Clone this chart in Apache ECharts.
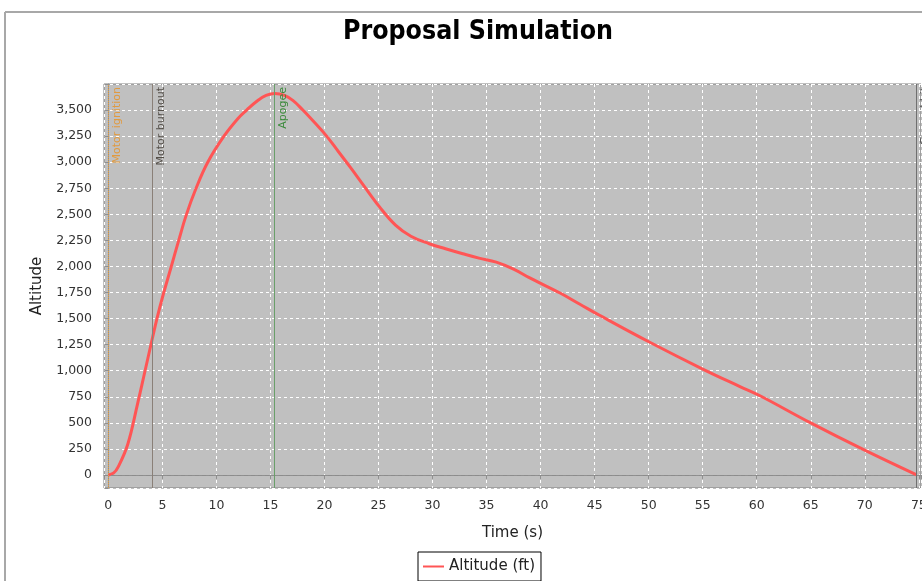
<!DOCTYPE html>
<html>
<head>
<meta charset="utf-8">
<script src="https://cdn.jsdelivr.net/npm/echarts@6/dist/echarts.min.js"></script>
<style>html,body{margin:0;padding:0;background:#fff}#c{width:922px;height:581px}</style>
</head>
<body>
<div id="c"></div>
<script>
const timeS = [0, 0.5, 0.9, 1.8, 2.7, 3.4, 4.1, 4.5, 5.0, 5.8, 6.5, 7.2, 8.1, 9.2, 10.7, 12.0, 12.8, 13.8, 14.6, 15.4, 16.3, 17.1, 18.0, 19.0, 20.2, 21.3, 22.4, 23.5, 25.1, 26.6, 28.0, 29.7, 31.2, 32.8, 34.3, 35.9, 37.5, 39.0, 41.8, 43.6, 45.5, 50.1, 55.0, 58.4, 60.3, 64.9, 69.8, 74.8];
const altitudeFt = [0, 20, 75, 295, 680, 1000, 1321, 1500, 1700, 1990, 2245, 2490, 2745, 3000, 3250, 3420, 3500, 3590, 3640, 3658, 3640, 3590, 3500, 3390, 3250, 3100, 2950, 2795, 2571, 2394, 2290, 2218, 2170, 2122, 2080, 2042, 1975, 1890, 1745, 1640, 1529, 1273, 1016, 850, 760, 504, 247, 0];
const eventNames = ['Motor ignition', 'Motor burnout', 'Apogee', 'Ground hit'];
const eventTimes = [0, 4.1, 15.4, 74.8];
const eventLineColors = ['#e8a040', '#8a8078', '#6a9f6a', '#707070'];
const eventLabelColors = ['#e09a40', '#55504a', '#3a8a3a', '#505050'];
const eventLineTypes = ['dotted', 'solid', 'solid', 'solid'];

const FONT = 'DejaVu Sans';
const chart = echarts.init(document.getElementById('c'), null, {renderer: 'canvas'});

const eventMarks = eventTimes.map((t, i) => ({
  xAxis: t,
  lineStyle: {color: eventLineColors[i], type: eventLineTypes[i], width: 1},
  label: {
    show: true, formatter: eventNames[i], position: 'insideEndBottom',
    color: eventLabelColors[i], fontFamily: FONT, fontSize: 11, distance: 3
  }
}));

chart.setOption({
  animation: false,
  backgroundColor: '#fff',
  graphic: [
    {type: 'line', shape: {x1: 5, y1: 12, x2: 922, y2: 12}, style: {stroke: '#a8a8a8', lineWidth: 2}},
    {type: 'line', shape: {x1: 5, y1: 12, x2: 5, y2: 581}, style: {stroke: '#a8a8a8', lineWidth: 2}}
  ],
  title: {
    text: 'Proposal Simulation', left: 473, top: 14, textAlign: 'center',
    textStyle: {fontFamily: 'DejaVu Sans Condensed', fontWeight: 'bold', fontSize: 26.5, color: '#000'}
  },
  legend: {
    data: ['Altitude (ft)'], left: 418, top: 552,
    borderColor: '#000', borderWidth: 1, padding: [7, 6, 7, 4],
    itemWidth: 21, itemHeight: 10,
    itemStyle: {opacity: 0},
    textStyle: {fontFamily: FONT, fontSize: 15, color: '#222'}
  },
  grid: {left: 104, top: 84, right: 1, bottom: 93, show: true, backgroundColor: '#c0c0c0', borderColor: '#808080', borderWidth: 1, containLabel: false, outerBoundsMode: 'none'},
  xAxis: {
    type: 'value', min: -0.4, max: 75.2, minInterval: 5, maxInterval: 5, offset: 5,
    name: 'Time (s)', nameLocation: 'middle', nameGap: 33,
    nameTextStyle: {fontFamily: FONT, fontSize: 15, color: '#222'},
    axisLine: {show: true, lineStyle: {color: '#909090', width: 1}},
    axisTick: {show: true, length: 4, lineStyle: {color: '#909090'}},
    axisLabel: {fontFamily: FONT, fontSize: 12.5, color: '#333', margin: 6,
      formatter: v => (Math.abs(v % 5) < 1e-9 && v >= 0) ? String(v) : ''},
    splitLine: {show: true, lineStyle: {color: '#ffffff', type: [3, 3], width: 1}}
  },
  yAxis: {
    type: 'value', min: -125, max: 3750, minInterval: 250, maxInterval: 250, offset: 5,
    name: 'Altitude', nameLocation: 'middle', nameGap: 54, nameRotate: 90,
    nameTextStyle: {fontFamily: FONT, fontSize: 15, color: '#222'},
    axisLine: {show: true, lineStyle: {color: '#909090', width: 1}},
    axisTick: {show: true, length: 4, lineStyle: {color: '#909090'}},
    axisLabel: {fontFamily: FONT, fontSize: 12.5, color: '#333', margin: 7,
      formatter: v => (v >= 0 && v <= 3500 && v % 250 === 0) ? v.toLocaleString('en-US') : ''},
    splitLine: {show: true, lineStyle: {color: '#ffffff', type: [3, 3], width: 1}}
  },
  series: [{
    name: 'Altitude (ft)', type: 'line', symbol: 'none', smooth: 0.4,
    data: timeS.map((t, i) => [t, altitudeFt[i]]),
    lineStyle: {color: '#ff5555', width: 3},
    itemStyle: {color: '#ff5555'},
    markLine: {
      silent: true, symbol: 'none', animation: false,
      data: [
        {yAxis: 0, lineStyle: {color: '#8c8c8c', type: [4, 3], width: 1}, label: {show: false}},
        ...eventMarks
      ]
    },
    z: 3
  }]
});
</script>
</body>
</html>
